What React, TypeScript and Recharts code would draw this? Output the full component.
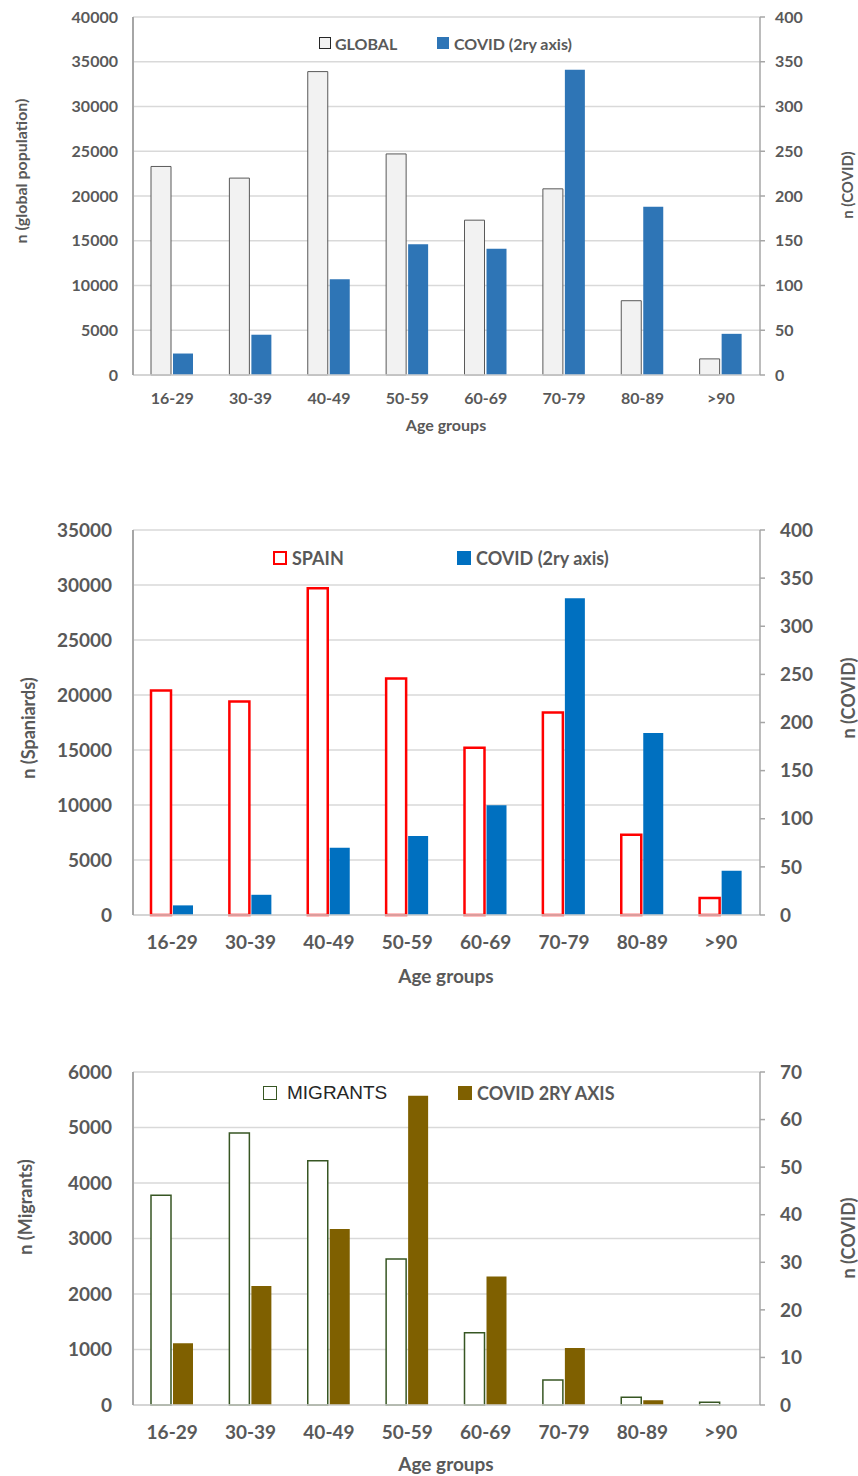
import React from 'react';
import { Bar, BarChart, CartesianGrid, XAxis, YAxis } from 'recharts';

const ageGroups = ['16-29', '30-39', '40-49', '50-59', '60-69', '70-79', '80-89', '>90'];

// panel 1: global population vs covid
const globalPop = [23300, 22000, 33900, 24700, 17300, 20800, 8300, 1800];
const globalCovid = [24, 45, 107, 146, 141, 341, 188, 46];

// panel 2: spaniards vs covid
const spainPop = [20400, 19400, 29700, 21500, 15200, 18400, 7300, 1550];
const spainCovid = [10, 21, 70, 82, 114, 329, 189, 46];

// panel 3: migrants vs covid
const migrantPop = [3780, 4900, 4400, 2630, 1300, 450, 140, 50];
const migrantCovid = [13, 25, 37, 65, 27, 12, 1, 0];

const globalTicks = [0, 5000, 10000, 15000, 20000, 25000, 30000, 35000, 40000];
const spainTicks = [0, 5000, 10000, 15000, 20000, 25000, 30000, 35000];
const migrantTicks = [0, 1000, 2000, 3000, 4000, 5000, 6000];
const covidTicks400 = [0, 50, 100, 150, 200, 250, 300, 350, 400];
const covidTicks70 = [0, 10, 20, 30, 40, 50, 60, 70];

const FONT = 'Lato, "Open Sans", sans-serif';
const GRAY = '#595959';
const AXIS = '#a6a6a6';

const panels = [
  {
    top: 0,
    height: 440,
    marginTop: 17,
    xAxisHeight: 65,
    pop: globalPop,
    covid: globalCovid,
    leftTicks: globalTicks,
    rightTicks: covidTicks400,
    tickFont: 16,
    leftTickMargin: 15,
    rightTickMargin: 10,
    xTickMargin: 18,
    leftTitleFont: 16,
    rightTitleFont: 15,
    ageFont: 16,
    ageY: 424,
    leftTitle: 'n (global population)',
    leftTitlePos: [20, 171],
    rightTitle: 'n (COVID)',
    rightTitlePos: [847, 185],
    popStyle: { fill: '#f2f2f2', stroke: '#595959', strokeWidth: 1 },
    covidColor: '#2e75b6',
    legendY: 43,
    legendFont: 16,
    legendBox: 12,
    legend: [
      { name: 'GLOBAL', x: 319, gap: 4, box: { background: '#f2f2f2', border: '1.5px solid #262626' }, font: FONT, weight: 700, color: GRAY, size: 16 },
      { name: 'COVID (2ry axis)', x: 437, gap: 5, box: { background: '#2e75b6' }, font: FONT, weight: 700, color: GRAY, size: 16 },
    ],
  },
  {
    top: 480,
    height: 510,
    marginTop: 50,
    xAxisHeight: 75,
    pop: spainPop,
    covid: spainCovid,
    leftTicks: spainTicks,
    rightTicks: covidTicks400,
    tickFont: 19,
    leftTickMargin: 21,
    rightTickMargin: 15,
    xTickMargin: 21,
    leftTitleFont: 18,
    rightTitleFont: 18,
    ageFont: 19,
    ageY: 495,
    leftTitle: 'n (Spaniards)',
    leftTitlePos: [28, 248],
    rightTitle: 'n (COVID)',
    rightTitlePos: [848, 218],
    popStyle: { fill: '#ffffff', stroke: '#ff0000', strokeWidth: 2.5 },
    covidColor: '#0070c0',
    legendY: 78,
    legendBox: 14,
    legend: [
      { name: 'SPAIN', x: 273, gap: 5, box: { background: '#ffffff', border: '2.5px solid #ff0000' }, font: FONT, weight: 700, color: GRAY, size: 18 },
      { name: 'COVID (2ry axis)', x: 457, gap: 5, box: { background: '#0070c0' }, font: FONT, weight: 700, color: GRAY, size: 18 },
    ],
  },
  {
    top: 1030,
    height: 446,
    marginTop: 42,
    xAxisHeight: 71,
    pop: migrantPop,
    covid: migrantCovid,
    leftTicks: migrantTicks,
    rightTicks: covidTicks70,
    tickFont: 19,
    leftTickMargin: 21,
    rightTickMargin: 15,
    xTickMargin: 21,
    leftTitleFont: 18,
    rightTitleFont: 18,
    ageFont: 19,
    ageY: 433,
    leftTitle: 'n (Migrants)',
    leftTitlePos: [25, 177],
    rightTitle: 'n (COVID)',
    rightTitlePos: [848, 208],
    popStyle: { fill: '#ffffff', stroke: '#375623', strokeWidth: 1.5 },
    covidColor: '#7f6000',
    legendY: 63,
    legendBox: 14,
    legend: [
      { name: 'MIGRANTS', x: 263, gap: 10, box: { background: '#ffffff', border: '1.5px solid #375623' }, font: '"Liberation Sans", Arial, sans-serif', weight: 400, color: '#262626', size: 19 },
      { name: 'COVID 2RY AXIS', x: 458, gap: 5, box: { background: '#7f6000' }, font: FONT, weight: 700, color: GRAY, size: 18 },
    ],
  },
];

const rotated = (text: string, pos: number[], size: number) => (
  <text
    x={pos[0]}
    y={pos[1]}
    transform={`rotate(-90 ${pos[0]} ${pos[1]})`}
    textAnchor="middle"
    dominantBaseline="central"
    fill={GRAY}
    fontSize={size}
    fontFamily={FONT}
    fontWeight={700}
  >
    {text}
  </text>
);

function Panel({ cfg }: { cfg: any }) {
  const data = ageGroups.map((g, i) => ({ group: g, pop: cfg.pop[i], covid: cfg.covid[i] }));
  const tickStyle = { fill: GRAY, fontSize: cfg.tickFont, fontFamily: FONT, fontWeight: 700 };
  const leftMax = cfg.leftTicks[cfg.leftTicks.length - 1];
  const rightMax = cfg.rightTicks[cfg.rightTicks.length - 1];

  return (
    <div style={{ position: 'absolute', left: 0, top: cfg.top, width: 858, height: cfg.height }}>
      <BarChart
        width={858}
        height={cfg.height}
        data={data}
        margin={{ top: cfg.marginTop, right: 0, bottom: 0, left: 0 }}
        barSize={20}
        barGap={2}
      >
        <CartesianGrid yAxisId="left" vertical={false} stroke="#d9d9d9" strokeWidth={1.5} />
        <XAxis
          dataKey="group"
          height={cfg.xAxisHeight}
          interval={0}
          axisLine={{ stroke: '#d0d0d0', strokeWidth: 1.5 }}
          tickLine={false}
          tickSize={0}
          tickMargin={cfg.xTickMargin}
          tick={tickStyle}
          label={() => (
            <text
              x={446}
              y={cfg.ageY}
              textAnchor="middle"
              dominantBaseline="central"
              fill={GRAY}
              fontSize={cfg.ageFont}
              fontFamily={FONT}
              fontWeight={700}
            >
              Age groups
            </text>
          )}
        />
        <YAxis
          yAxisId="left"
          orientation="left"
          width={133}
          domain={[0, leftMax]}
          ticks={cfg.leftTicks}
          interval={0}
          axisLine={{ stroke: AXIS, strokeWidth: 2 }}
          tickLine={false}
          tickSize={0}
          tickMargin={cfg.leftTickMargin}
          tick={tickStyle}
          label={() => rotated(cfg.leftTitle, cfg.leftTitlePos, cfg.leftTitleFont)}
        />
        <YAxis
          yAxisId="right"
          orientation="right"
          width={98}
          domain={[0, rightMax]}
          ticks={cfg.rightTicks}
          interval={0}
          axisLine={{ stroke: AXIS, strokeWidth: 1.5 }}
          tickLine={{ stroke: AXIS, strokeWidth: 1.5 }}
          tickSize={5}
          tickMargin={cfg.rightTickMargin}
          tick={{ ...tickStyle, textAnchor: 'start' }}
          label={() => rotated(cfg.rightTitle, cfg.rightTitlePos, cfg.rightTitleFont)}
        />
        <Bar yAxisId="left" dataKey="pop" {...cfg.popStyle} isAnimationActive={false} />
        <Bar yAxisId="right" dataKey="covid" fill={cfg.covidColor} isAnimationActive={false} />
      </BarChart>

      {cfg.legend.map((item: any) => (
        <div
          key={item.name}
          style={{
            position: 'absolute',
            left: item.x,
            top: cfg.legendY - 12,
            height: 24,
            display: 'flex',
            alignItems: 'center',
            gap: item.gap,
            whiteSpace: 'nowrap',
          }}
        >
          <span
            style={{
              display: 'inline-block',
              boxSizing: 'border-box',
              width: cfg.legendBox,
              height: cfg.legendBox,
              ...item.box,
            }}
          />
          <span style={{ fontFamily: item.font, fontWeight: item.weight, fontSize: item.size, color: item.color }}>
            {item.name}
          </span>
        </div>
      ))}
    </div>
  );
}

export default function App() {
  return (
    <div style={{ position: 'absolute', left: 0, top: 0, width: 858, height: 1476, background: '#ffffff' }}>
      {panels.map((p, i) => (
        <Panel key={i} cfg={p} />
      ))}
    </div>
  );
}
